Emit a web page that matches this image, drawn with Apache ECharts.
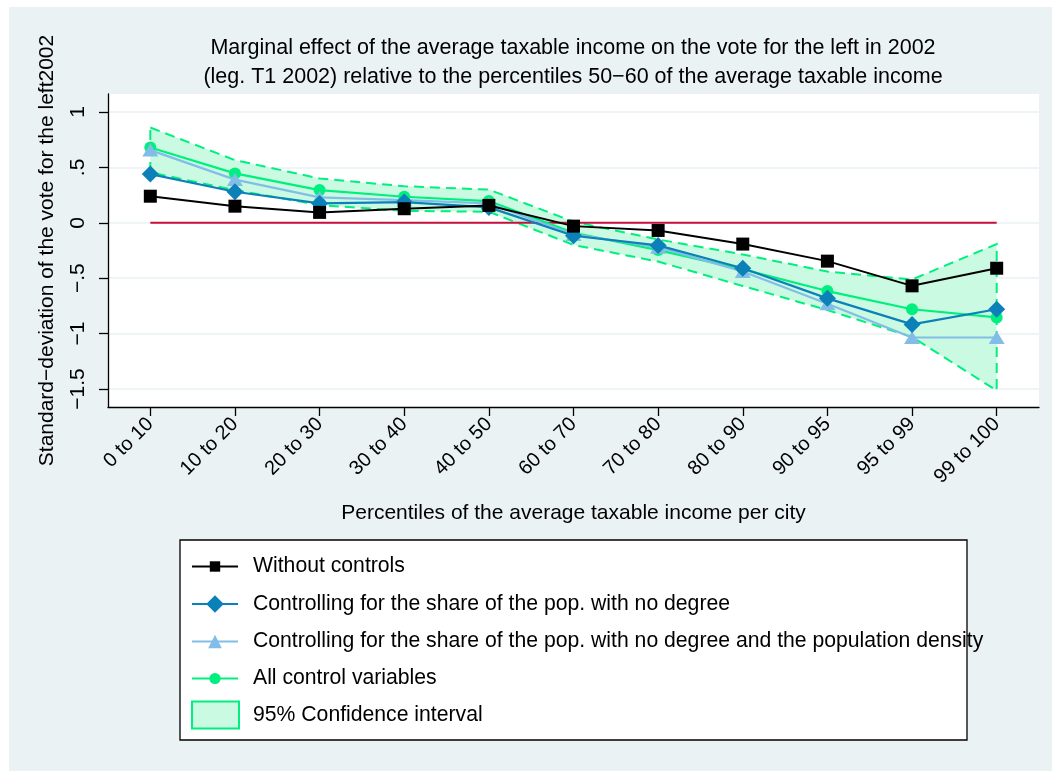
<!DOCTYPE html>
<html>
<head>
<meta charset="utf-8">
<script src="https://cdn.jsdelivr.net/npm/echarts@6/dist/echarts.min.js"></script>
<style>
  html, body { margin: 0; padding: 0; background: #ffffff; }
  #chart { width: 1052px; height: 771px; }
</style>
</head>
<body>
<div id="chart"></div>
<script>
// Income percentile groups (x axis)
const categories = ['0 to 10', '10 to 20', '20 to 30', '30 to 40', '40 to 50',
  '60 to 70', '70 to 80', '80 to 90', '90 to 95', '95 to 99', '99 to 100'];

// Estimated marginal effects for each specification
const withoutControls = [0.24, 0.15, 0.094, 0.127, 0.157, -0.03, -0.069, -0.192, -0.346, -0.569, -0.41];
const noDegree = [0.44, 0.28, 0.175, 0.187, 0.139, -0.117, -0.204, -0.41, -0.682, -0.917, -0.78];
const noDegreeDensity = [0.656, 0.39, 0.229, 0.205, 0.175, -0.105, -0.22, -0.44, -0.73, -1.035, -1.035];
const allControls = [0.68, 0.446, 0.295, 0.235, 0.196, -0.09, -0.246, -0.42, -0.616, -0.78, -0.854];

// 95% confidence bounds of the full specification
const ciUpper = [0.86, 0.566, 0.40, 0.33, 0.30, 0.01, -0.15, -0.286, -0.44, -0.512, -0.192];
const ciLower = [0.455, 0.295, 0.16, 0.108, 0.10, -0.20, -0.35, -0.57, -0.788, -1.03, -1.514];

// Reference line at zero
const zeroLine = categories.map(() => 0);

// Y axis ticks and their labels
const yTicks = [-1.5, -1, -0.5, 0, 0.5, 1];
const yTickLabels = ['\u22121.5', '\u22121', '\u2212.5', '0', '.5', '1'];

const seriesNames = [
  'Without controls',
  'Controlling for the share of the pop. with no degree',
  'Controlling for the share of the pop. with no degree and the population density',
  'All control variables',
  '95% Confidence interval'
];

const FONT = "'Liberation Sans', Arial, sans-serif";
const BG = '#eaf2f3';
const C_BLACK = '#000000';
const C_BLUE = '#0c80b8';
const C_LIGHT = '#82bde8';
const C_GREEN = '#00ef7e';
const C_FILL = '#cbfae2';
const C_RED = '#c8103c';

const chart = echarts.init(document.getElementById('chart'), null, { renderer: 'canvas' });

function lineLegend(name, top, itemHeight) {
  return {
    show: true,
    orient: 'vertical',
    left: 191,
    top: top,
    padding: 0,
    itemWidth: 46,
    itemHeight: itemHeight,
    selectedMode: false,
    data: [name],
    textStyle: { fontFamily: FONT, fontSize: 21.2, color: '#000', lineHeight: 24, padding: [0, 0, 0, 10] }
  };
}

const option = {
  animation: false,
  backgroundColor: '#ffffff',
  textStyle: { fontFamily: FONT },
  graphic: [
    { type: 'rect', z: -10, silent: true, shape: { x: 9, y: 7, width: 1043, height: 764 }, style: { fill: BG } },
    { type: 'rect', z: 0, silent: true, shape: { x: 180, y: 540, width: 787, height: 200 },
      style: { fill: '#ffffff', stroke: '#000000', lineWidth: 1.3 } }
  ],
  title: {
    text: 'Marginal effect of the average taxable income on the vote for the left in 2002\n(leg. T1 2002) relative to the percentiles 50\u221260 of the average taxable income',
    left: 573,
    top: 33,
    padding: 0,
    textAlign: 'center',
    textStyle: { fontFamily: FONT, fontSize: 21.5, fontWeight: 'normal', color: '#000', lineHeight: 29.5 }
  },
  legend: [
    lineLegend(seriesNames[0], 554.5, 13),
    lineLegend(seriesNames[1], 592, 22),
    lineLegend(seriesNames[2], 629.5, 17),
    lineLegend(seriesNames[3], 666.5, 14),
    {
      show: true,
      orient: 'vertical',
      left: 191,
      top: 700.5,
      padding: 0,
      itemWidth: 47,
      itemHeight: 27,
      selectedMode: false,
      data: [{ name: seriesNames[4], icon: 'rect',
        itemStyle: { color: C_FILL, borderColor: C_GREEN, borderWidth: 2 } }],
      textStyle: { fontFamily: FONT, fontSize: 21.2, color: '#000', lineHeight: 24, padding: [0, 0, 0, 9] }
    }
  ],
  grid: {
    left: 108, right: 13, top: 94, bottom: 364,
    show: true, backgroundColor: '#ffffff', borderWidth: 0,
    containLabel: false,
    outerBoundsMode: 'none'
  },
  xAxis: {
    type: 'category',
    data: categories,
    boundaryGap: true,
    name: 'Percentiles of the average taxable income per city',
    nameLocation: 'middle',
    nameGap: 96,
    nameTextStyle: { fontFamily: FONT, fontSize: 21, color: '#000' },
    axisLine: { show: true, onZero: false, lineStyle: { color: '#000', width: 1.3 } },
    axisTick: { show: true, alignWithLabel: true, length: 9, lineStyle: { color: '#000', width: 1.3 } },
    axisLabel: { interval: 0, rotate: 45, margin: 14, fontFamily: FONT, fontSize: 20, color: '#000', hideOverlap: false },
    splitLine: { show: false }
  },
  yAxis: {
    type: 'value',
    min: -1.6625,
    max: 1.1625,
    name: 'Standard\u2212deviation of the vote for the left2002',
    nameLocation: 'middle',
    nameRotate: 90,
    nameGap: 50,
    nameTextStyle: { fontFamily: FONT, fontSize: 21, color: '#000' },
    axisLine: { show: true, lineStyle: { color: '#000', width: 1.3 } },
    axisTick: { show: true, length: 9, customValues: yTicks, lineStyle: { color: '#000', width: 1.3 } },
    axisLabel: {
      rotate: 90, margin: 19, customValues: yTicks,
      fontFamily: FONT, fontSize: 21, color: '#000',
      formatter: v => {
        const i = yTicks.findIndex(t => Math.abs(t - v) < 1e-9);
        return i >= 0 ? yTickLabels[i] : '';
      }
    },
    splitLine: { show: true, lineStyle: { color: BG, width: 1.6 } }
  },
  series: [
    {
      type: 'custom',
      name: seriesNames[4],
      z: 1,
      silent: true,
      data: [[0, 0]],
      itemStyle: { color: C_FILL, borderColor: C_GREEN },
      renderItem: (params, api) => {
        const pts = [];
        ciUpper.forEach((v, i) => pts.push(api.coord([i, v])));
        for (let i = ciLower.length - 1; i >= 0; i--) pts.push(api.coord([i, ciLower[i]]));
        return {
          type: 'polygon',
          shape: { points: pts },
          style: { fill: C_FILL, stroke: C_GREEN, lineWidth: 2, lineDash: [10, 6] }
        };
      }
    },
    {
      type: 'line', name: 'zero', data: zeroLine, z: 2, silent: true,
      showSymbol: false, symbol: 'none',
      lineStyle: { color: C_RED, width: 2 }
    },
    {
      type: 'line', name: seriesNames[3], data: allControls, z: 3,
      symbol: 'circle', symbolSize: 12,
      itemStyle: { color: C_GREEN }, lineStyle: { color: C_GREEN, width: 2.2 }
    },
    {
      type: 'line', name: seriesNames[2], data: noDegreeDensity, z: 4,
      symbol: 'triangle', symbolSize: [16, 13],
      itemStyle: { color: C_LIGHT }, lineStyle: { color: C_LIGHT, width: 2.2 }
    },
    {
      type: 'line', name: seriesNames[1], data: noDegree, z: 5,
      symbol: 'diamond', symbolSize: 17,
      itemStyle: { color: C_BLUE }, lineStyle: { color: C_BLUE, width: 2.2 }
    },
    {
      type: 'line', name: seriesNames[0], data: withoutControls, z: 6,
      symbol: 'rect', symbolSize: 13,
      itemStyle: { color: C_BLACK }, lineStyle: { color: C_BLACK, width: 2 }
    }
  ]
};

chart.setOption(option);
</script>
</body>
</html>
